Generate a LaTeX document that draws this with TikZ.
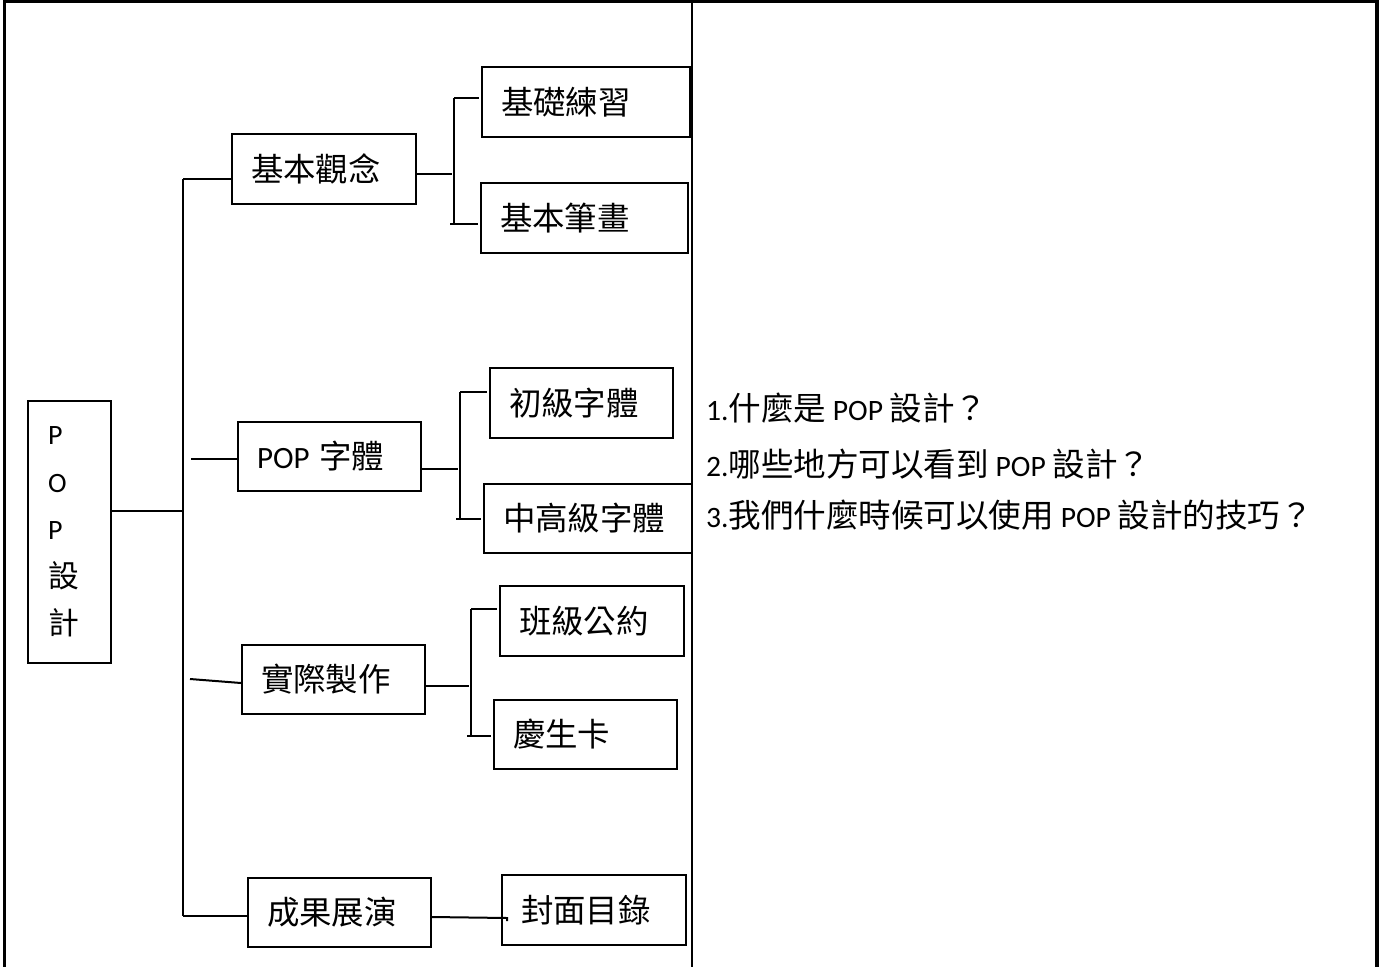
\documentclass[tikz,border=0pt]{standalone}
\usepackage{fontspec}
\setmainfont{Carlito}
\newfontfamily\cjk[Scale=1.1]{Noto Sans CJK TC}

\begin{document}
\begin{tikzpicture}[x=1pt,y=-1pt,line width=2pt,
	box/.style={draw,line width=2pt,inner xsep=19pt,inner ysep=0pt,align=left,font=\fontsize{29.5}{36}\selectfont},
	ask/.style={anchor=base west,inner sep=0pt,font=\fontsize{29.6}{36}\selectfont}]
\useasboundingbox (0,0) rectangle (1385,967);
\draw[line width=3.5pt] (4.5,967) -- (4.5,1.5) -- (1377,1.5) -- (1377,967);
\draw (692,0) -- (692,967);
\node (root) [box,minimum width=83pt,minimum height=262pt,text width=43pt,font=\fontsize{28}{47.5}\selectfont] at (69.5,532) {P\\O\\P\\{\cjk 設}\\{\cjk 計}};
\foreach \n/\xa/\ya/\xb/\yb/\s in {concept/232/134/416/204/{\cjk 基本觀念},font/238/422/421/491/{{\fontsize{31}{36}\selectfont POP} {\cjk 字體}},make/242/645/425/714/{\cjk 實際製作},show/248/878/431/947/{\cjk 成果展演},basic/482/67/690/137/{\cjk 基礎練習},stroke/481/183/688/253/{\cjk 基本筆畫},easy/490/368/673/438/{\cjk 初級字體},hard/484/484/692/553/{\cjk 中高級字體},rules/500/586/684/656/{\cjk 班級公約},card/494/700/677/769/{\cjk 慶生卡},cover/502/875/686/945/{\cjk 封面目錄}}{
	\node (\n) [box,minimum width={(\xb-\xa)*1pt},minimum height={(\yb-\ya)*1pt},text width={(\xb-\xa-38)*1pt}] at ({(\xa+\xb)/2},{(\ya+\yb)/2}) {\s};
}
\coordinate (tt) at (183,179);
\coordinate (tb) at (183,916);
\coordinate (f0) at (191,459);
\coordinate (m0) at (190,679);
\draw (tt) -- (tb);
\draw (root.east |- 0,511) -- (tt |- 0,511);
\draw (tt) -- (tt -| concept.west);
\draw (f0) -- (f0 -| font.west);
\draw (m0) -- (make.west |- 0,683);
\draw (tb) -- (tb -| show.west);
\foreach \p/\up/\dn/\x/\yu/\yd/\ym in {concept/basic/stroke/454/98/224/174,font/easy/hard/460/392/519/469,make/rules/card/471/609/736/686}{
	\coordinate (\p-u) at (\x,\yu);
	\coordinate (\p-d) at (\x,\yd);
	\draw (\p-u) -- (\p-d);
	\draw[shorten >=2.5pt] (\p.east |- 0,\ym) -- (\p-u |- 0,\ym);
	\draw[shorten >=2pt] (\p-u) -- (\p-u -| \up.west);
	\draw[shorten <=-4pt,shorten >=2pt] (\p-d) -- (\p-d -| \dn.west);
}
\coordinate (c0) at ([xshift=6pt]cover.west);
\draw (show.east |- 0,917) -- (c0 |- 0,918) -- ++(0,3);
\node (q1) [ask] at (705,420) {1.{\cjk 什麼是} POP {\cjk 設計？}};
\node (q2) [ask] at (705,476) {2.{\cjk 哪些地方可以看到} POP {\cjk 設計？}};
\node (q3) [ask] at (705,527) {3.{\cjk 我們什麼時候可以使用} POP {\cjk 設計的技巧？}};
\end{tikzpicture}
\end{document}
